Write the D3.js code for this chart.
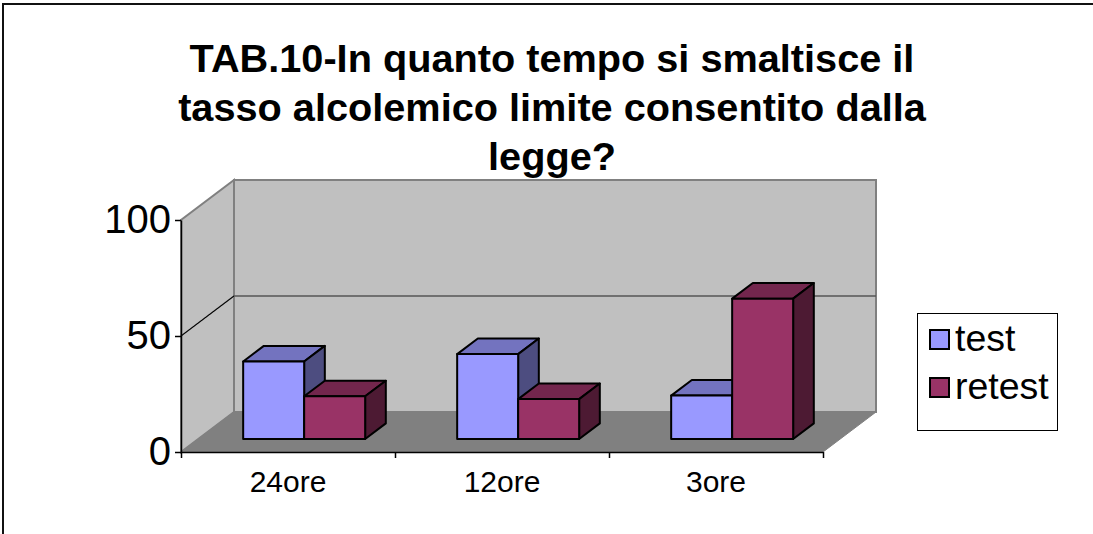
<!DOCTYPE html>
<html>
<script src="https://d3js.org/d3.v7.min.js"></script>
<style>
    html, body { margin: 0; padding: 0; background: #fff; overflow: hidden; }
    svg { display: block; }
    text { font-family: "Liberation Sans", Arial, sans-serif; }
</style>
<body>
<svg id="chart"></svg>
<script>
    var titleLines = ["TAB.10-In quanto tempo si smaltisce il", "tasso alcolemico limite consentito dalla", "legge?"];
    var categories = ["24ore", "12ore", "3ore"];
    var seriesNames = ["test", "retest"];
    var testValues = [33.4, 36.6, 18.7];
    var retestValues = [18.4, 17.2, 60.5];
    var yTicks = [0, 50, 100];

    var colors = {
        test: { front: "#9999ff", top: "#7373bf", side: "#4d4d80" },
        retest: { front: "#993366", top: "#73264d", side: "#4d1a33" }
    };

    var width = 1093, height = 534;
    var svg = d3.select("#chart").attr("width", width).attr("height", height);

    // outer frame (runs off the right and bottom edge)
    svg.append("rect")
        .attr("x", 3).attr("y", 4)
        .attr("width", 1300).attr("height", 800)
        .attr("fill", "#fff").attr("stroke", "#111").attr("stroke-width", 2);

    // title
    svg.append("g").selectAll("text")
        .data(titleLines)
        .enter().append("text")
        .attr("x", 552)
        .attr("y", (d, i) => 72 + i * 49)
        .attr("text-anchor", "middle")
        .attr("font-size", 39.7)
        .attr("font-weight", "bold")
        .text(d => d);

    // 3d geometry
    var depth = { dx: 53, dy: -40 };
    var x = d3.scaleBand().domain(categories).range([181, 823]);
    var y = d3.scaleLinear().domain([0, 100]).range([452, 220]);
    var xs = d3.scaleBand().domain(seriesNames)
        .range([x.bandwidth() * 0.21, x.bandwidth() * 0.78]);

    var x0 = x.range()[0], x1 = x.range()[1];
    var pt = (px, py, f) => [px + depth.dx * f, py + depth.dy * f];
    var poly = pts => "M" + pts.map(p => p.join(",")).join("L") + "Z";

    var walls = svg.append("g");
    // side wall
    walls.append("path")
        .attr("d", poly([pt(x0, y(0), 0), pt(x0, y(100), 0), pt(x0, y(100), 1), pt(x0, y(0), 1)]))
        .attr("fill", "#c0c0c0").attr("stroke", "#808080").attr("stroke-width", 2);
    // back wall
    walls.append("path")
        .attr("d", poly([pt(x0, y(0), 1), pt(x0, y(100), 1), pt(x1, y(100), 1), pt(x1, y(0), 1)]))
        .attr("fill", "#c0c0c0").attr("stroke", "#808080").attr("stroke-width", 2);
    // floor
    walls.append("path")
        .attr("d", poly([pt(x0, y(0), 0), pt(x0, y(0), 1), pt(x1, y(0), 1), pt(x1, y(0), 0)]))
        .attr("fill", "#808080").attr("stroke", "#808080").attr("stroke-width", 1);

    // gridline at 50
    var g50 = [pt(x0, y(50), 0), pt(x0, y(50), 1), pt(x1, y(50), 1)];
    walls.append("path")
        .attr("d", "M" + g50.map(p => p.join(",")).join("L"))
        .attr("fill", "none").attr("stroke", "#555").attr("stroke-width", 1.5);
    walls.append("line")
        .attr("x1", g50[0][0]).attr("y1", g50[0][1]).attr("x2", g50[1][0]).attr("y2", g50[1][1])
        .attr("stroke", "#000").attr("stroke-width", 1);

    // bars
    var barFront = 13 / 40, barDepth = 0.39;
    var shiftY = v => y(v) + depth.dy * barFront;
    var bars = [];
    categories.forEach((c, i) => {
        bars.push({ cat: c, s: "test", v: testValues[i] });
        bars.push({ cat: c, s: "retest", v: retestValues[i] });
    });

    var barG = svg.append("g").selectAll("g")
        .data(bars)
        .enter().append("g");

    barG.each(function (d) {
        var g = d3.select(this);
        var left = x(d.cat) + xs(d.s) + depth.dx * barFront;
        var right = left + xs.bandwidth();
        var top = shiftY(d.v), bottom = shiftY(0);
        var ox = depth.dx * barDepth, oy = depth.dy * barDepth;
        var c = colors[d.s];
        g.append("path")
            .attr("d", poly([[left, top], [left + ox, top + oy], [right + ox, top + oy], [right, top]]))
            .attr("fill", c.top);
        g.append("path")
            .attr("d", poly([[right, top], [right + ox, top + oy], [right + ox, bottom + oy], [right, bottom]]))
            .attr("fill", c.side);
        g.append("rect")
            .attr("x", left).attr("y", top)
            .attr("width", right - left).attr("height", bottom - top)
            .attr("fill", c.front);
        g.selectAll("path, rect")
            .attr("stroke", "#000").attr("stroke-width", 2).attr("stroke-linejoin", "round");
    });

    // y axis
    var yAxis = svg.append("g")
        .attr("transform", "translate(" + x0 + ",0)")
        .call(d3.axisLeft(y).tickValues(yTicks).tickSize(6).tickPadding(4).tickSizeOuter(0));
    yAxis.select(".domain").attr("stroke", "#000").attr("stroke-width", 1.5);
    yAxis.selectAll(".tick line").attr("stroke", "#000").attr("stroke-width", 1.5);
    yAxis.selectAll(".tick text")
        .attr("font-size", 40).attr("fill", "#000")
        .attr("font-family", "Liberation Sans, Arial, sans-serif");

    // x axis: ticks on the band edges, labels in the middle
    var xEdges = d3.scaleLinear().domain([0, categories.length]).range([x0, x1]);
    var xAxis = svg.append("g")
        .attr("transform", "translate(0," + y(0) + ")")
        .call(d3.axisBottom(xEdges).ticks(categories.length).tickSize(6).tickFormat("").tickSizeOuter(0));
    xAxis.select(".domain").attr("stroke", "#000").attr("stroke-width", 1.5);
    xAxis.selectAll(".tick line").attr("stroke", "#000").attr("stroke-width", 1.5);

    svg.append("g").selectAll("text")
        .data(categories)
        .enter().append("text")
        .attr("x", d => x(d) + x.bandwidth() / 2)
        .attr("y", 492)
        .attr("text-anchor", "middle")
        .attr("font-size", 30)
        .text(d => d);

    // legend
    var legend = svg.append("g");
    legend.append("rect")
        .attr("x", 917.5).attr("y", 313.5).attr("width", 140).attr("height", 117)
        .attr("fill", "#fff").attr("stroke", "#000").attr("stroke-width", 1);
    var items = legend.selectAll("g.item")
        .data(seriesNames)
        .enter().append("g")
        .attr("class", "item")
        .attr("transform", (d, i) => "translate(930," + (330 + i * 48) + ")");
    items.append("rect")
        .attr("width", 19).attr("height", 19)
        .attr("fill", d => colors[d].front)
        .attr("stroke", "#000").attr("stroke-width", 2);
    items.append("text")
        .attr("x", 25).attr("y", 21)
        .attr("font-size", 37.5)
        .text(d => d);
</script>
</body>
</html>
